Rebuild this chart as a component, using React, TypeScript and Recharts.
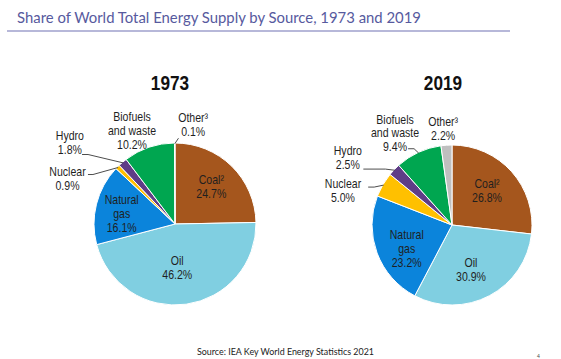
import React from 'react';
import { PieChart, Pie, Cell } from 'recharts';

const CATEGORIES = ['Coal', 'Oil', 'Natural gas', 'Nuclear', 'Hydro', 'Biofuels and waste', 'Other'];
const LABEL_LINES = [['Coal²'], ['Oil'], ['Natural', 'gas'], ['Nuclear'], ['Hydro'], ['Biofuels', 'and waste'], ['Other³']];
const SHARE_1973 = [24.7, 46.2, 16.1, 0.9, 1.8, 10.2, 0.1];
const SHARE_2019 = [26.8, 30.9, 23.2, 5.0, 2.5, 9.4, 2.2];
const YEARS = ['1973', '2019'];

const COLORS = ['#a5561d', '#80cfe1', '#0b84db', '#ffc000', '#5f3d87', '#00a650', '#bfbfbf'];

const data1973 = CATEGORIES.map((name, i) => ({ name, value: SHARE_1973[i] }));
const data2019 = CATEGORIES.map((name, i) => ({ name, value: SHARE_2019[i] }));

type Lead = { r: number; shift: number; hx: number };
type LabelSpec = { r: number; shift: number; lead?: Lead };

// label placement: radius factor and angular shift (deg, clockwise) from the slice's mid angle
const LAYOUT_1973: LabelSpec[] = [
  { r: 0.64, shift: 0 },
  { r: 0.54, shift: 5 },
  { r: 0.67, shift: -3.5 },
  { r: 1.44, shift: -22, lead: { r: 1.236, shift: -15.2, hx: 5 } },
  { r: 1.64, shift: -12, lead: { r: 1.433, shift: -12.9, hx: 6 } },
  { r: 1.27, shift: -6 },
  { r: 1.24, shift: 10.6, lead: { r: 1.06, shift: 2.5, hx: 0 } },
];

const LAYOUT_2019: LabelSpec[] = [
  { r: 0.61, shift: -2.4 },
  { r: 0.61, shift: 5 },
  { r: 0.64, shift: -7.3 },
  { r: 1.43, shift: -12.6, lead: { r: 1.15, shift: -5.9, hx: 6 } },
  { r: 1.55, shift: -10.9, lead: { r: 1.31, shift: -11.5, hx: 22 } },
  { r: 1.35, shift: -7, lead: { r: 1.1, shift: -5.1, hx: 6 } },
  { r: 1.21, shift: -1.3 },
];

const RAD = Math.PI / 180;
const LINE_H = 14;

const makeLabel = (layout: LabelSpec[]) => (props: any) => {
  const { cx, cy, midAngle, outerRadius, index, value } = props;
  const spec = layout[index];
  const base = 90 - midAngle;
  const pt = (d: number, a: number) => ({
    x: cx + d * Math.sin(a * RAD),
    y: cy - d * Math.cos(a * RAD),
  });
  const c = pt(spec.r * outerRadius, base + spec.shift);
  const lines = [...LABEL_LINES[index], `${Number(value).toFixed(1)}%`];
  const n = lines.length;
  let lead = null;
  if (spec.lead) {
    const s = pt(spec.lead.r * outerRadius, base + spec.lead.shift);
    const e = pt(outerRadius * 0.99, base);
    const pts = `${s.x},${s.y} ${s.x + spec.lead.hx},${s.y} ${e.x},${e.y}`;
    lead = <polyline points={pts} fill="none" stroke="#4d4d4d" strokeWidth={1} />;
  }
  return (
    <g key={`lbl-${index}`}>
      {lead}
      <g transform={`translate(${c.x},${c.y}) scale(0.88,1)`}>
        {lines.map((t, i) => (
          <text
            key={i}
            x={0}
            y={(i - (n - 1) / 2) * LINE_H}
            textAnchor="middle"
            dominantBaseline="central"
            fontFamily="'Liberation Sans', Arial, sans-serif"
            fontSize={12}
            fill="#1f1f1f"
          >
            {t}
          </text>
        ))}
      </g>
    </g>
  );
};

export default function App() {
  return (
    <div style={{ position: 'absolute', left: 0, top: 0, width: 561, height: 359, background: '#fff', overflow: 'hidden' }}>
      <PieChart width={561} height={359}>
        <Pie
          data={data1973}
          dataKey="value"
          nameKey="name"
          cx={170}
          cy={219}
          outerRadius={81}
          startAngle={90}
          endAngle={-270}
          stroke="#ffffff"
          strokeWidth={1}
          label={makeLabel(LAYOUT_1973)}
          labelLine={false}
          isAnimationActive={false}
        >
          {data1973.map((d, i) => (
            <Cell key={d.name} fill={COLORS[i]} />
          ))}
        </Pie>
        <Pie
          data={data2019}
          dataKey="value"
          nameKey="name"
          cx={447}
          cy={220}
          outerRadius={80}
          startAngle={90}
          endAngle={-270}
          stroke="#ffffff"
          strokeWidth={1}
          label={makeLabel(LAYOUT_2019)}
          labelLine={false}
          isAnimationActive={false}
        >
          {data2019.map((d, i) => (
            <Cell key={d.name} fill={COLORS[i]} />
          ))}
        </Pie>
      </PieChart>
      <svg width={561} height={359} style={{ position: 'absolute', left: 0, top: 0, pointerEvents: 'none' }}>
        <text
          x={17}
          y={23}
          fontFamily="Lato, 'Open Sans', sans-serif"
          fontSize={16}
          fill="#575a9e"
          textLength={404}
          lengthAdjust="spacingAndGlyphs"
        >
          Share of World Total Energy Supply by Source, 1973 and 2019
        </text>
        <line x1={7} y1={31} x2={510} y2={31} stroke="#9fa0cc" strokeWidth={1.5} />
        {YEARS.map((y, i) => (
          <g key={y} transform={`translate(${i === 0 ? 170 : 443},83) scale(0.82,1)`}>
            <text
              x={0}
              y={0}
              textAnchor="middle"
              dominantBaseline="central"
              fontFamily="'Liberation Sans', Arial, sans-serif"
              fontWeight="bold"
              fontSize={21}
              fill="#111"
            >
              {y}
            </text>
          </g>
        ))}
        <text
          x={197}
          y={355}
          fontFamily="Lato, 'Open Sans', sans-serif"
          fontSize={10}
          fill="#222"
          textLength={177}
          lengthAdjust="spacingAndGlyphs"
        >
          Source: IEA Key World Energy Statistics 2021
        </text>
        <text x={537} y={358} fontFamily="Lato, sans-serif" fontSize={5} fill="#444">
          4
        </text>
      </svg>
    </div>
  );
}
